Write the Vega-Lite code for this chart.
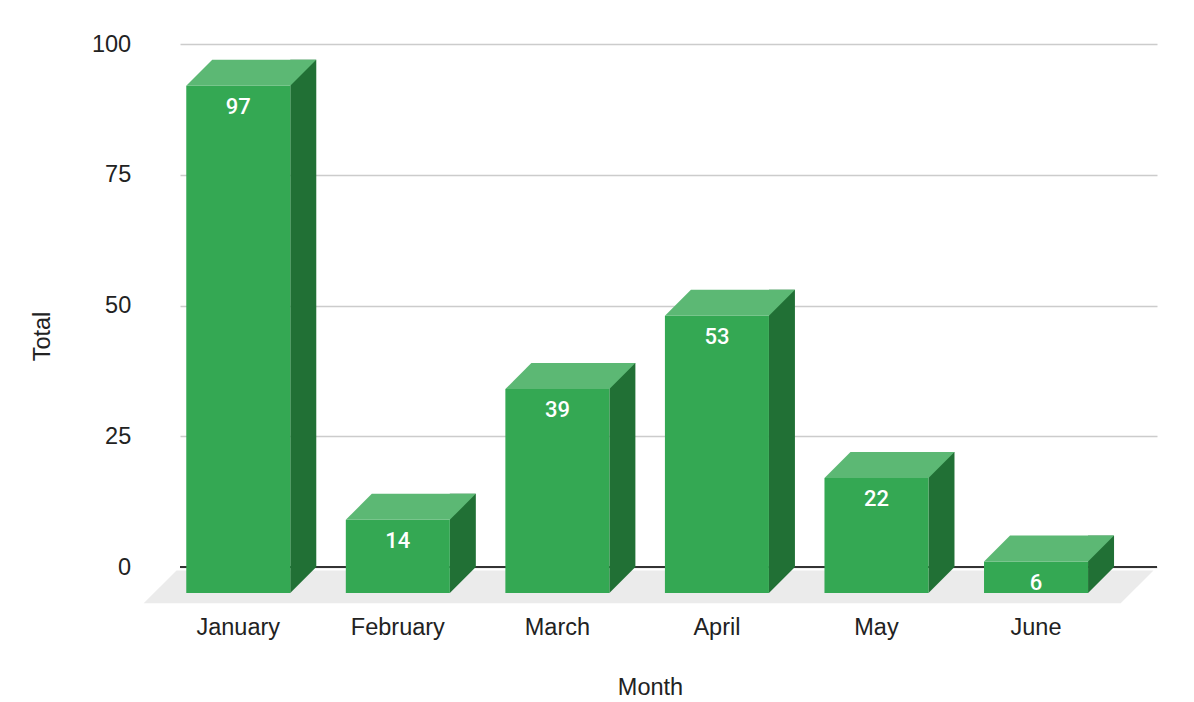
{
  "$schema": "https://vega.github.io/schema/vega-lite/v6.json",
  "width": 977,
  "height": 523,
  "autosize": "none",
  "padding": {"left": 180, "top": 44, "right": 37, "bottom": 135},
  "background": "white",
  "config": {
    "view": {"stroke": null},
    "font": "Liberation Sans",
    "axisX": {
      "labelFont": "Liberation Sans",
      "labelFontSize": 23.5,
      "labelColor": "#222222",
      "labelAngle": 0,
      "labelBaseline": "middle",
      "labelPadding": 60,
      "labelOffset": -26,
      "ticks": false,
      "tickSize": 0,
      "domain": false,
      "grid": false,
      "titleFont": "Liberation Sans",
      "titleFontSize": 23.5,
      "titleFontWeight": "normal",
      "titleColor": "#222222",
      "titleX": 470,
      "titleY": 120,
      "titleBaseline": "middle"
    },
    "axisY": {
      "labelFont": "Liberation Sans",
      "labelFontSize": 23.5,
      "labelColor": "#222222",
      "labelPadding": 49.3,
      "ticks": false,
      "tickSize": 0,
      "domain": false,
      "grid": true,
      "gridColor": "#cccccc",
      "gridWidth": 1.5,
      "titleFont": "Liberation Sans",
      "titleFontSize": 23.5,
      "titleFontWeight": "normal",
      "titleColor": "#222222",
      "titleX": -137.8,
      "titleY": 292,
      "titleBaseline": "middle"
    }
  },
  "data": {
    "values": [
      {"month": "January", "total": 97},
      {"month": "February", "total": 14},
      {"month": "March", "total": 39},
      {"month": "April", "total": 53},
      {"month": "May", "total": 22},
      {"month": "June", "total": 6}
    ]
  },
  "layer": [
    {
      "transform": [{"aggregate": [{"op": "count", "as": "n"}]}],
      "mark": {
        "type": "point",
        "shape": "M -492 3.5 L 485 3.5 L 452.2 36.3 L -524.8 36.3 Z",
        "size": 4,
        "filled": true,
        "fill": "#ebebeb",
        "strokeWidth": 0,
        "opacity": 1
      },
      "encoding": {
        "y": {"datum": 0, "type": "quantitative", "title": "Total", "scale": {"domain": [0, 100]}, "axis": {"values": [0, 25, 50, 75, 100]}}
      }
    },
    {
      "mark": {"type": "rule", "color": "#333333", "strokeWidth": 2},
      "encoding": {
        "y": {"datum": 0, "type": "quantitative", "title": "Total", "axis": {"values": [0, 25, 50, 75, 100]}}
      }
    },
    {
      "encoding": {
        "x": {
          "field": "month",
          "type": "nominal",
          "sort": null,
          "title": "Month",
          "scale": {"paddingInner": 0.348, "paddingOuter": 0.2357, "align": 0.429, "round": false}
        },
        "y": {
          "field": "total",
          "type": "quantitative",
          "title": "Total",
          "scale": {"domain": [0, 100]},
          "axis": {"values": [0, 25, 50, 75, 100]}
        }
      },
      "layer": [
        {
          "mark": {"type": "bar", "color": "#217035", "width": 26, "xOffset": 39},
          "encoding": {"y2": {"datum": 0}}
        },
        {
          "mark": {
            "type": "point",
            "shape": "M 26 -1 L 52 -1 L 52 0 L 26 26 Z",
            "size": 4,
            "filled": true,
            "fill": "#217035",
            "strokeWidth": 0,
            "opacity": 1
          },
          "encoding": {"y": {"datum": 0, "type": "quantitative", "title": "Total", "axis": {"values": [0, 25, 50, 75, 100]}}}
        },
        {
          "mark": {"type": "bar", "color": "#34a853", "xOffset": -26, "yOffset": 26, "y2Offset": 26},
          "encoding": {"y2": {"datum": 0}}
        },
        {
          "mark": {
            "type": "point",
            "shape": "M -52 0 L 52 0 L 26 26 L -78 26 Z",
            "size": 4,
            "filled": true,
            "fill": "#5cb874",
            "strokeWidth": 0,
            "opacity": 1
          }
        },
        {
          "mark": {
            "type": "text",
            "font": "Roboto",
            "fontWeight": 500,
            "fontSize": 22,
            "color": "white",
            "baseline": "middle",
            "align": "center",
            "dx": -26,
            "dy": 47
          },
          "encoding": {"text": {"field": "total", "type": "quantitative"}}
        }
      ]
    }
  ]
}
